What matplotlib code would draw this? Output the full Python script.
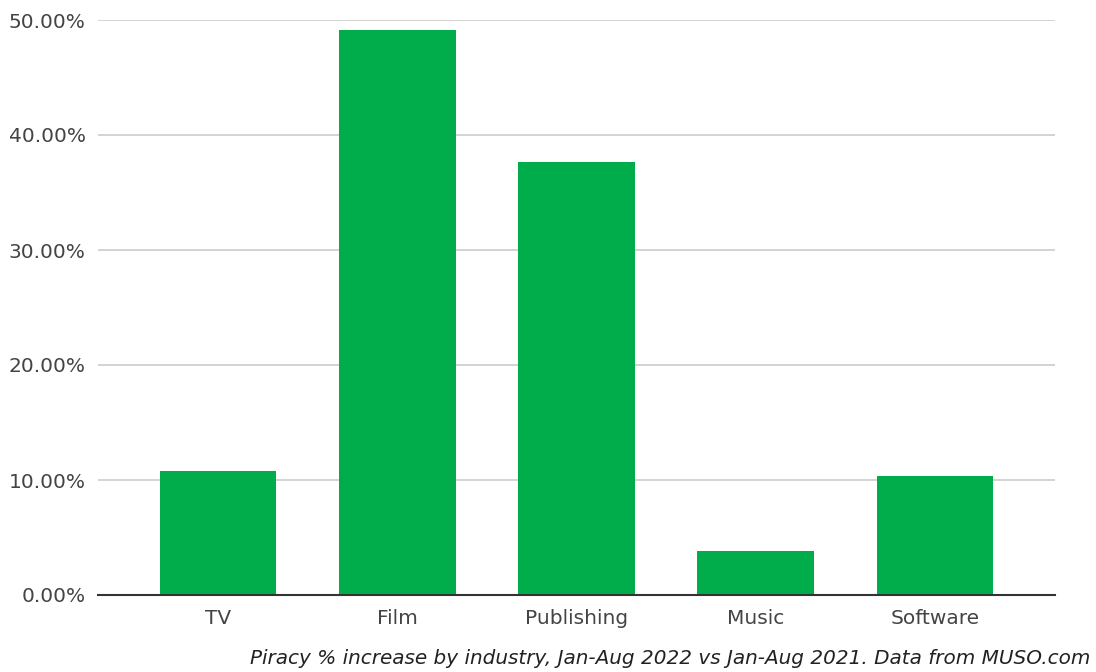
import matplotlib.pyplot as plt
from matplotlib.ticker import FuncFormatter

# dados
industrias = ['TV', 'Film', 'Publishing', 'Music', 'Software']
aumento = [10.78, 49.13, 37.65, 3.85, 10.35]  # % de aumento
yticks = [0, 10, 20, 30, 40, 50]

verde = '#00ad4a'

fig = plt.figure(figsize=(10.96, 6.72), dpi=100)
ax = fig.add_axes([98 / 1096, 1 - 595 / 672, (1055 - 98) / 1096, (595 - 20) / 672])

x = list(range(len(industrias)))
ax.bar(x, aumento, width=0.65, color=verde, zorder=3)

ax.set_xlim(-0.67, len(industrias) - 0.33)
ax.set_ylim(0, 50)
ax.set_yticks(yticks)
ax.yaxis.set_major_formatter(FuncFormatter(lambda v, p: f'{v:.2f}%'))
ax.set_xticks(x)
ax.set_xticklabels(industrias)

ax.grid(axis='y', color='#cccccc', linewidth=1.2, zorder=0)
for lado in ['top', 'right', 'left']:
    ax.spines[lado].set_visible(False)
ax.spines['bottom'].set_color('#333333')
ax.spines['bottom'].set_linewidth(1.5)
ax.spines['bottom'].set_zorder(4)

ax.tick_params(axis='y', length=0, pad=9, labelsize=14.5, labelcolor='#444444')
ax.tick_params(axis='x', length=0, pad=10, labelsize=14.5, labelcolor='#444444')

# legenda de rodapé
fig.text(1090 / 1096, 1 - 658 / 672,
         'Piracy % increase by industry, Jan-Aug 2022 vs Jan-Aug 2021. Data from MUSO.com',
         ha='right', va='center', fontsize=14.4, style='italic', family='DejaVu Sans', color='#222222')

fig.savefig('out.png', dpi=100)
